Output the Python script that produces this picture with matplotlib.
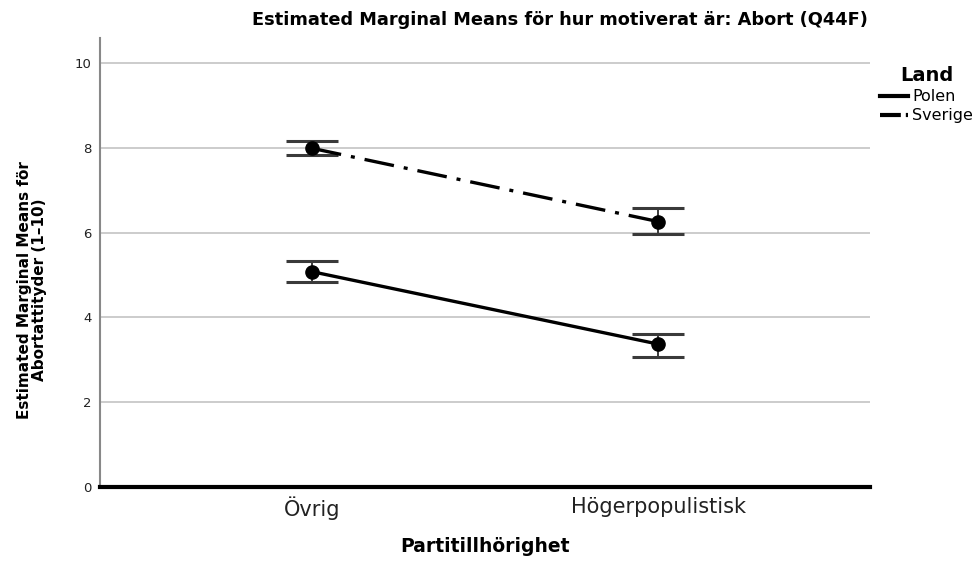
import matplotlib
matplotlib.use("Agg")
import matplotlib.pyplot as plt
import numpy as np

categories = ["Övrig", "Högerpopulistisk"]
series_names = ["Polen", "Sverige"]
polen_mean = [5.08, 3.37]
polen_low = [4.83, 3.07]
polen_high = [5.33, 3.62]
sverige_mean = [7.99, 6.26]
sverige_low = [7.82, 5.96]
sverige_high = [8.17, 6.57]
yticks = [0, 2, 4, 6, 8, 10]

plt.rcParams['font.family'] = ['DejaVu Sans']

fig = plt.figure(figsize=(9.76, 5.61), dpi=100)
ax = fig.add_axes([100/976, 1-487/561, 770/976, (487-38)/561])

x = np.arange(len(categories))
handles = []
for name, m, lo, hi in [("Polen", polen_mean, polen_low, polen_high),
                        ("Sverige", sverige_mean, sverige_low, sverige_high)]:
    m = np.array(m); lo = np.array(lo); hi = np.array(hi)
    ax.errorbar(x, m, yerr=[m - lo, hi - m], fmt='none', ecolor='#3a3a3a',
                elinewidth=1.4, capsize=19, capthick=2.2, zorder=3)
    ls = '-' if name == "Polen" else (0, (9, 3, 1.2, 3))
    h, = ax.plot(x, m, color='black', linewidth=2.4, linestyle=ls, marker='o',
                 markersize=9.5, markerfacecolor='black', markeredgecolor='black',
                 zorder=4, label=name)
    handles.append(h)

ax.set_xlim(-0.611, 1.611)
ax.set_ylim(0, 10.59)
ax.set_yticks(yticks)
ax.set_yticklabels([str(t) for t in yticks], fontsize=9.5, color='#222222')
ax.set_xticks(x)
ax.set_xticklabels(categories, fontsize=15, color='#222222')
ax.tick_params(axis='both', length=0)
ax.tick_params(axis='y', pad=6)
ax.tick_params(axis='x', pad=7)
ax.yaxis.grid(True, color='#c8c8c8', linewidth=1.3)
ax.set_axisbelow(True)
for s in ['top', 'right']:
    ax.spines[s].set_visible(False)
ax.spines['left'].set_color('#888888')
ax.spines['left'].set_linewidth(1.5)
ax.spines['bottom'].set_color('black')
ax.spines['bottom'].set_linewidth(3)
ax.spines['bottom'].set_zorder(5)

ax.set_xlabel("Partitillhörighet", fontsize=13.5, fontweight='bold', labelpad=12)
fig.text(32/976, 1-290/561, "Estimated Marginal Means för\nAbortattityder (1–10)",
         rotation=90, ha='center', va='center', fontsize=11, fontweight='bold',
         linespacing=1.05)

fig.text(560/976, 1-20/561, "Estimated Marginal Means för hur motiverat är: Abort (Q44F)",
         ha='center', va='center', fontsize=12.8, fontweight='bold')

leg = fig.legend(handles=handles, labels=series_names, title="Land",
                 loc='upper left', bbox_to_anchor=(866/976, 1-52/561),
                 frameon=False, fontsize=11.5, handlelength=1.7, handletextpad=0.3,
                 labelspacing=0.25)
leg.get_title().set_fontweight('bold')
leg.get_title().set_fontsize(14)
leg_lines = leg.get_lines()
for lh in leg_lines:
    lh.set_marker('')
    lh.set_linewidth(3)
leg_lines[1].set_linestyle((0, (5, 1.2, 0.8, 1.2)))

fig.savefig("out.png", dpi=100)
